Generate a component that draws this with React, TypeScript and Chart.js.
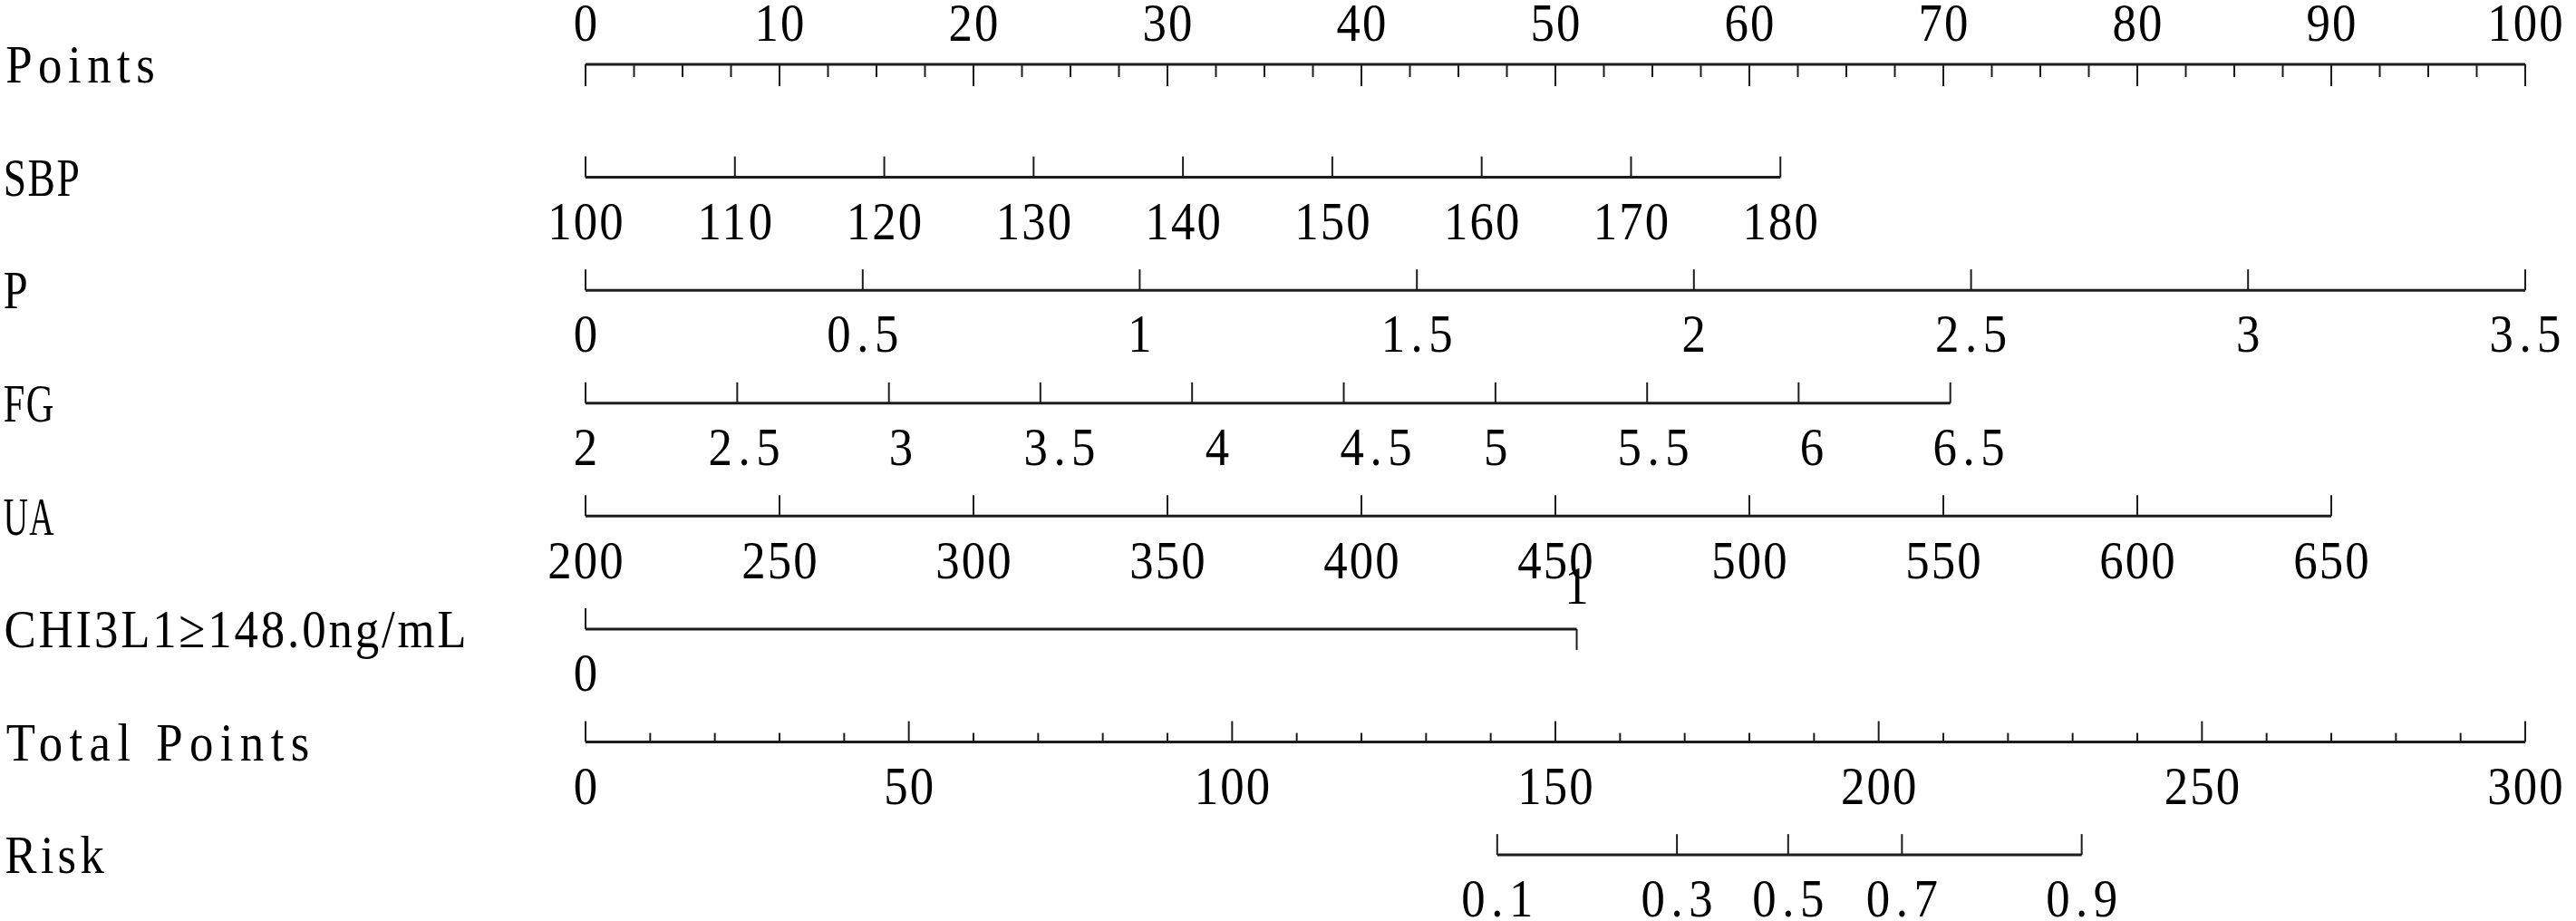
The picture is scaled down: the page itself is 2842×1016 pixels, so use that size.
import React, { useEffect, useRef } from "react";
import { Chart, registerables } from "chart.js";

Chart.register(...registerables);

// ---------- data ----------
const rowNames = ["Points", "SBP", "P", "FG", "UA", "CHI3L1≥148.0ng/mL", "Total Points", "Risk"];

const pointsLabels = [0, 10, 20, 30, 40, 50, 60, 70, 80, 90, 100];
const pointsMinorStep = 2.5;

const sbpValues = [100, 110, 120, 130, 140, 150, 160, 170, 180];
const sbpPoints = [0, 7.7, 15.4, 23.1, 30.8, 38.5, 46.2, 53.9, 61.6];

const pValues = [0, 0.5, 1, 1.5, 2, 2.5, 3, 3.5];
const pPoints = [0, 14.29, 28.57, 42.86, 57.14, 71.43, 85.71, 100];

const fgValues = [2, 2.5, 3, 3.5, 4, 4.5, 5, 5.5, 6, 6.5];
const fgPoints = [0, 7.82, 15.64, 23.45, 31.27, 39.09, 46.91, 54.73, 62.54, 70.36];
const fgLabelPoints = [0, 8.18, 16.26, 24.44, 32.57, 40.75, 46.92, 55.05, 63.22, 71.31];

const uaValues = [200, 250, 300, 350, 400, 450, 500, 550, 600, 650];
const uaPoints = [0, 10, 20, 30, 40, 50, 60, 70, 80, 90];

const chiValues = [0, 1];
const chiPoints = [0, 51.1];

const totalLabels = [0, 50, 100, 150, 200, 250, 300];
const totalMinorStep = 10;

const riskValues = [0.1, 0.3, 0.5, 0.7, 0.9];
const riskTotal = [141.0, 168.8, 186.0, 203.6, 231.4];

// ---------- style ----------
const LINE_COLOR = "#1c1c1c";
const TEXT_COLOR = "#000000";
const FONT_PX = 60;
const CELL = 28.5; // half-width cell of the mono CJK-style font
const SX = 0.88; // horizontal condensing
const MIN_GAP = 2;
const CAP_HALF = 0.338 * FONT_PX;
const TICK_LEN = 23;
const MINOR_LEN_POINTS = 14;
const MAJOR_LEN_POINTS = 24;
const MINOR_LEN_TOTAL = 10;
const LABEL_GAP = 48;

type Tick = { at: number; len: number; dir: number };
type Lab = { text: string; at: number; side: number };
type Row = { name: string; axis: string; from: number; to: number; ticks: Tick[]; labels: Lab[] };

function range(a: number, b: number, step: number) {
  const out: number[] = [];
  for (let v = a; v <= b + 1e-9; v += step) out.push(Math.round(v * 1000) / 1000);
  return out;
}

function buildRows(): Row[] {
  const rows: Row[] = [];
  rows.push({
    name: rowNames[0],
    axis: "x",
    from: pointsLabels[0],
    to: pointsLabels[pointsLabels.length - 1],
    ticks: range(pointsLabels[0], pointsLabels[pointsLabels.length - 1], pointsMinorStep).map((v) => ({
      at: v,
      len: pointsLabels.includes(v) ? MAJOR_LEN_POINTS : MINOR_LEN_POINTS,
      dir: 1,
    })),
    labels: pointsLabels.map((v) => ({ text: String(v), at: v, side: -1 })),
  });
  const simple = (name: string, vals: number[], pts: number[], labPts?: number[]): Row => ({
    name,
    axis: "x",
    from: pts[0],
    to: pts[pts.length - 1],
    ticks: pts.map((p) => ({ at: p, len: TICK_LEN, dir: -1 })),
    labels: vals.map((v, i) => ({ text: String(v), at: (labPts || pts)[i], side: 1 })),
  });
  rows.push(simple(rowNames[1], sbpValues, sbpPoints));
  rows.push(simple(rowNames[2], pValues, pPoints));
  rows.push(simple(rowNames[3], fgValues, fgPoints, fgLabelPoints));
  rows.push(simple(rowNames[4], uaValues, uaPoints));
  rows.push({
    name: rowNames[5],
    axis: "x",
    from: chiPoints[0],
    to: chiPoints[1],
    ticks: [
      { at: chiPoints[0], len: TICK_LEN, dir: -1 },
      { at: chiPoints[1], len: TICK_LEN, dir: 1 },
    ],
    labels: [
      { text: String(chiValues[0]), at: chiPoints[0], side: 1 },
      { text: String(chiValues[1]), at: chiPoints[1], side: -1 },
    ],
  });
  rows.push({
    name: rowNames[6],
    axis: "xTotal",
    from: totalLabels[0],
    to: totalLabels[totalLabels.length - 1],
    ticks: range(totalLabels[0], totalLabels[totalLabels.length - 1], totalMinorStep).map((v) => ({
      at: v,
      len: totalLabels.includes(v) ? TICK_LEN : MINOR_LEN_TOTAL,
      dir: -1,
    })),
    labels: totalLabels.map((v) => ({ text: String(v), at: v, side: 1 })),
  });
  rows.push({
    name: rowNames[7],
    axis: "xTotal",
    from: riskTotal[0],
    to: riskTotal[riskTotal.length - 1],
    ticks: riskTotal.map((p) => ({ at: p, len: TICK_LEN, dir: -1 })),
    labels: riskValues.map((v, i) => ({ text: String(v), at: riskTotal[i], side: 1 })),
  });
  return rows;
}

function drawText(ctx: CanvasRenderingContext2D, text: string, x: number, cy: number, align: string) {
  const chars = Array.from(text);
  const n = chars.length;
  const cells = chars.reduce((s, c) => s + ((c.codePointAt(0) || 0) > 0x2000 ? 2 : 1), 0);
  const target = cells * CELL;
  ctx.save();
  ctx.font = `${FONT_PX}px "Liberation Serif", "DejaVu Serif", serif`;
  (ctx as any).letterSpacing = "0px";
  const natural = ctx.measureText(text).width;
  const sx = Math.min(SX, target / (natural + n * MIN_GAP));
  const ls = (target / sx - natural) / n;
  (ctx as any).letterSpacing = `${ls}px`;
  ctx.textAlign = "left";
  ctx.textBaseline = "alphabetic";
  ctx.fillStyle = TEXT_COLOR;
  const left = align === "center" ? x - target / 2 : x;
  ctx.translate(left, cy + CAP_HALF);
  ctx.scale(sx, 1);
  ctx.fillText(text, ls / 2, 0);
  ctx.restore();
}

export default function App() {
  const canvasRef = useRef<HTMLCanvasElement | null>(null);

  useEffect(() => {
    const canvas = canvasRef.current;
    if (!canvas) return;
    const rows = buildRows();

    const nomogramPlugin = {
      id: "nomogram",
      afterDatasetsDraw(chart: any) {
        const ctx: CanvasRenderingContext2D = chart.ctx;
        const ys = chart.scales.y;
        rows.forEach((row, i) => {
          const xs = chart.scales[row.axis];
          const py = ys.getPixelForValue(i);
          ctx.save();
          ctx.strokeStyle = LINE_COLOR;
          ctx.lineWidth = 2;
          ctx.lineCap = "butt";
          row.ticks.forEach((t) => {
            const px = xs.getPixelForValue(t.at);
            ctx.beginPath();
            ctx.moveTo(px, py);
            ctx.lineTo(px, py + t.dir * t.len);
            ctx.stroke();
          });
          ctx.restore();
          row.labels.forEach((l) => {
            const px = xs.getPixelForValue(l.at);
            const cy = l.side > 0 ? py + LABEL_GAP : py - (i === 0 ? 46 : LABEL_GAP);
            drawText(ctx, l.text, px, cy, "center");
          });
          drawText(ctx, row.name, 3, py, "left");
        });
      },
    };

    const chart = new Chart(canvas, {
      type: "scatter",
      data: {
        datasets: rows.map((row, i) => ({
          label: row.name,
          xAxisID: row.axis,
          data: [
            { x: row.from, y: i },
            { x: row.to, y: i },
          ],
          showLine: true,
          borderColor: LINE_COLOR,
          backgroundColor: LINE_COLOR,
          borderWidth: 3,
          pointRadius: 0,
          tension: 0,
        })),
      },
      options: {
        animation: false,
        responsive: false,
        devicePixelRatio: 1,
        layout: { padding: { left: 646, right: 56, top: 0, bottom: 0 } },
        plugins: { legend: { display: false }, tooltip: { enabled: false } },
        scales: {
          x: { type: "linear", min: 0, max: 100, display: false },
          xTotal: { type: "linear", axis: "x", min: 0, max: 300, display: false },
          y: { type: "linear", min: -0.57, max: 7.585, reverse: true, display: false },
        },
      } as any,
      plugins: [nomogramPlugin],
    });
    return () => chart.destroy();
  }, []);

  return (
    <div style={{ position: "absolute", left: 0, top: 0, width: 2842, height: 1016, background: "#fff" }}>
      <canvas ref={canvasRef} width={2842} height={1016} style={{ display: "block" }} />
    </div>
  );
}
